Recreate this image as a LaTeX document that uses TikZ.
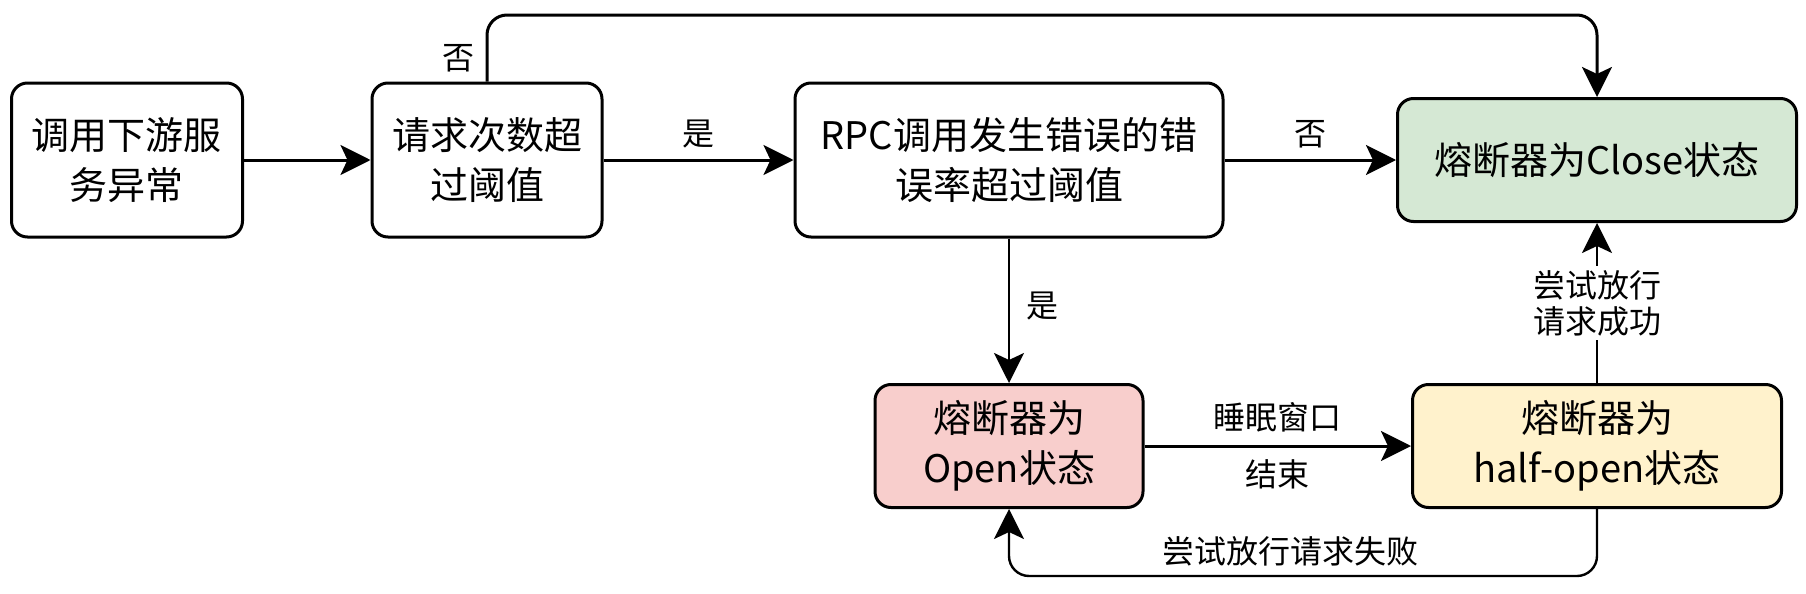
\documentclass[tikz,border=0pt]{standalone}
\usepackage{fontspec}
\setmainfont{Noto Sans CJK SC}
\usetikzlibrary{arrows.meta}
\definecolor{closefill}{HTML}{D5E8D4}
\definecolor{openfill}{HTML}{F8CECC}
\definecolor{halffill}{HTML}{FFF2CC}
\begin{document}
\begin{tikzpicture}
      [
      x=0.5pt, y=-0.5pt,
      state/.style={rectangle,draw,rounded corners=8pt,line width=1.5pt,inner sep=0pt,align=center,font=\fontsize{19}{25}\selectfont},
      flow/.style={-{Stealth[length=15pt,width=15pt,inset=3.5pt]},line width=1.5pt},
      thinflow/.style={-{Stealth[length=15pt,width=15pt,inset=3.5pt]},line width=1.2pt},
      tag/.style={inner sep=2pt,font=\fontsize{16}{18}\selectfont}
      ]
      \useasboundingbox (0,0) rectangle (1806,594);
      \node (call) at (127,160) [state, minimum width=115.5pt, minimum height=77pt] {调用下游服\\务异常};
      \node (count) at (487,160) [state, minimum width=115pt, minimum height=77pt] {请求次数超\\过阈值};
      \node (rpc) at (1009,160) [state, minimum width=214pt, minimum height=77pt] {RPC调用发生错误的错\\误率超过阈值};
      \node (close) at (1597,160) [state, fill=closefill, minimum width=199.5pt, minimum height=61.5pt] {熔断器为Close状态};
      \node (open) at (1009,446) [state, fill=openfill, minimum width=134pt, minimum height=61.5pt] {熔断器为\\Open状态};
      \node (half) at (1597,446) [state, fill=halffill, minimum width=184.5pt, minimum height=61.5pt] {熔断器为\\half-open状态};
      \coordinate (top) at (0,15);
      \coordinate (bottom) at (0,576);
      \draw [flow] (call) to (count);
      \draw [flow] (count) to node [tag, above=3pt] {是} (rpc);
      \draw [flow] (rpc) to node [tag, above=3pt] {否} (close);
      \draw [flow, rounded corners=10pt] (count.north) |- (top -| close.north) -- (close.north);
      \node (no) at (458,58) [tag] {否};
      \draw [thinflow] (rpc) to node [tag, right=6pt, pos=0.47] {是} (open);
      \draw [flow] (open) to node [tag, above=4pt] {睡眠窗口} node [tag, below=4pt] {结束} (half);
      \draw [thinflow] (half) to node [tag, fill=white, align=center, pos=0.5] {尝试放行\\请求成功} (close);
      \draw [thinflow, rounded corners=10pt] (half.south) |- (bottom -| open.south) -- (open.south);
      \node (fail) at (1290,551) [tag] {尝试放行请求失败};
\end{tikzpicture}
\end{document}
